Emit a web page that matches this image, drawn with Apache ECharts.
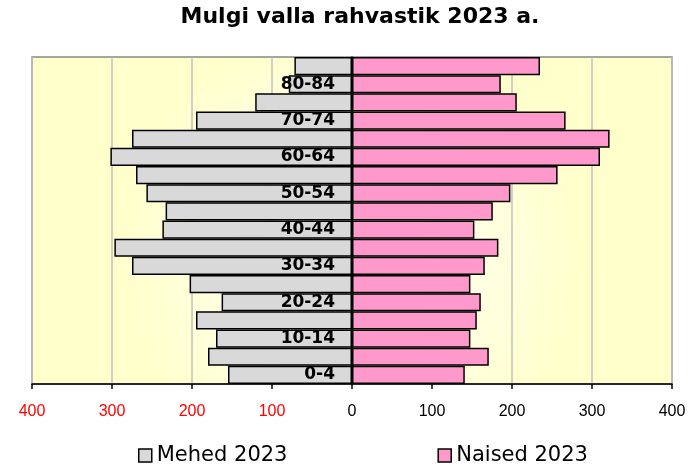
<!DOCTYPE html>
<html>
<head>
<meta charset="utf-8">
<script src="https://cdn.jsdelivr.net/npm/echarts@6/dist/echarts.min.js"></script>
<style>html,body{margin:0;padding:0;background:#fff}#c{width:690px;height:467px}</style>
</head>
<body>
<div id="c"></div>
<script>
const categories = ['0-4','5-9','10-14','15-19','20-24','25-29','30-34','35-39','40-44','45-49','50-54','55-59','60-64','65-69','70-74','75-79','80-84','85+'];
const men2023 = [155,180,170,195,163,203,275,297,237,233,257,270,302,275,195,121,79,72];
const women2023 = [141,171,148,156,161,148,166,183,153,176,198,257,310,322,267,206,186,235];

const chart = echarts.init(document.getElementById('c'), null, {renderer:'canvas'});
chart.setOption({
  animation:false,
  title:{text:'Mulgi valla rahvastik 2023 a.', left:355, top:1, textAlign:'center',
    textStyle:{fontFamily:'DejaVu Sans', fontWeight:'bold', fontSize:22, color:'#000'}},
  legend:{left:133, top:440, itemWidth:13, itemHeight:13, itemGap:150,
    icon:'rect',
    textStyle:{fontFamily:'DejaVu Sans', fontSize:21, color:'#000'},
    data:[{name:'Mehed 2023', itemStyle:{borderColor:'#000',borderWidth:1.5}},
          {name:'Naised 2023', itemStyle:{borderColor:'#000',borderWidth:1.5}}]},
  grid:{left:32, right:18, top:57, bottom:83, containLabel:false, outerBoundsMode:'none',
    show:true, borderColor:'#888', borderWidth:1.5,
    backgroundColor:{type:'radial', x:0.5, y:0.6, r:0.7,
      colorStops:[{offset:0,color:'#ffffff'},{offset:1,color:'#ffffcc'}]}},
  xAxis:{type:'value', min:-400, max:400, interval:100,
    axisLine:{show:true, onZero:false, lineStyle:{color:'#000', width:1.5}},
    axisTick:{show:true, length:5, lineStyle:{color:'#000', width:1.5}},
    splitLine:{show:true, lineStyle:{color:'#c0c0c0', width:1.5}},
    axisLabel:{margin:20, fontFamily:'Liberation Sans', fontSize:16,
      formatter:v=>String(Math.abs(v)),
      color:(v)=> (Number(v) < 0 ? '#ff0000' : '#000')}},
  yAxis:{type:'category', data:categories, z:10, offset:-320,
    axisLine:{show:true, onZero:false, lineStyle:{color:'#000', width:1.5}},
    axisTick:{show:false},
    axisLabel:{interval:1, margin:17, fontFamily:'DejaVu Sans', fontWeight:'bold', fontSize:17, color:'#000'}},
  series:[
    {name:'Mehed 2023', type:'bar', data:men2023.map(v=>-v), barCategoryGap:'0%', barGap:'-100%',
      itemStyle:{color:'#d9d9d9', borderColor:'#000', borderWidth:1.5}},
    {name:'Naised 2023', type:'bar', data:women2023, barCategoryGap:'0%', barGap:'-100%',
      itemStyle:{color:'#ff99cc', borderColor:'#000', borderWidth:1.5}}
  ]
});
</script>
</body>
</html>
